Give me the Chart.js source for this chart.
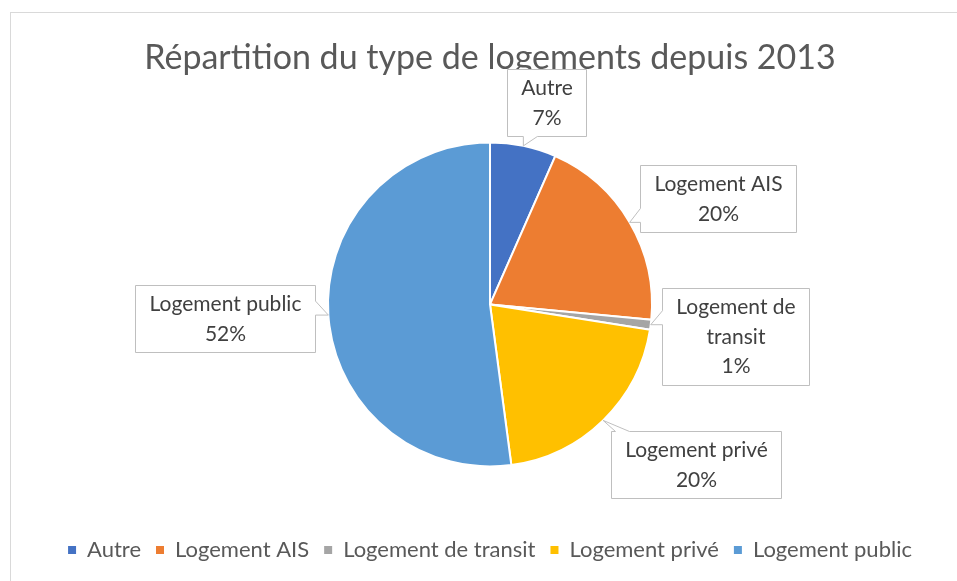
<!DOCTYPE html>
<html>
<head>
<meta charset="utf-8">
<script src="https://cdn.jsdelivr.net/npm/chart.js@4.4.0/dist/chart.umd.min.js"></script>
<style>
  html, body { margin: 0; padding: 0; background: #fff; }
  #wrap { width: 957px; height: 581px; }
</style>
</head>
<body>
<div id="wrap"><canvas id="myChart" width="957" height="581"></canvas></div>
<script>
const categories = ['Autre', 'Logement AIS', 'Logement de transit', 'Logement privé', 'Logement public'];
const shares = [6.6, 19.9, 1.0, 20.4, 52.1];
const colors = ['#4472C4', '#ED7D31', '#A5A5A5', '#FFC000', '#5B9BD5'];

// callout box placement relative to the slice edge, and wrap widths
const labelOffsets = [[23, -43], [88, -24], [85, 12], [93, 44], [-103, 3]];
const labelWrap = [0, 0, 130, 0, 0];

const FONT = 'Lato, "Noto Sans", sans-serif';

function wrapText(ctx, text, max) {
  if (!max) return [text];
  var words = text.split(' ');
  var lines = [];
  var cur = '';
  words.forEach(function (w) {
    var t = cur ? cur + ' ' + w : w;
    if (cur && ctx.measureText(t).width > max) {
      lines.push(cur);
      cur = w;
    } else {
      cur = t;
    }
  });
  if (cur) lines.push(cur);
  return lines;
}

function calloutPath(ctx, x0, y0, x1, y1, tx, ty) {
  var w = 14;
  var side;
  if (tx >= x0 && tx <= x1) side = ty > y1 ? 'bottom' : 'top';
  else if (ty >= y0 && ty <= y1) side = tx < x0 ? 'left' : 'right';
  else {
    var dx = tx < x0 ? x0 - tx : tx - x1;
    var dy = ty < y0 ? y0 - ty : ty - y1;
    if (dy > dx) side = ty < y0 ? 'top' : 'bottom';
    else side = tx < x0 ? 'left' : 'right';
  }
  var clamp = function (v, a, b) { return Math.max(a, Math.min(b, v)); };
  var bx = clamp(tx, x0 + 4, x1 - 4 - w);
  var by = clamp(ty - w, y0 + 4, y1 - 4 - w);
  ctx.beginPath();
  ctx.moveTo(x0, y0);
  if (side === 'top') { ctx.lineTo(bx, y0); ctx.lineTo(tx, ty); ctx.lineTo(bx + w, y0); }
  ctx.lineTo(x1, y0);
  if (side === 'right') { ctx.lineTo(x1, by); ctx.lineTo(tx, ty); ctx.lineTo(x1, by + w); }
  ctx.lineTo(x1, y1);
  if (side === 'bottom') { ctx.lineTo(bx + w, y1); ctx.lineTo(tx, ty); ctx.lineTo(bx, y1); }
  ctx.lineTo(x0, y1);
  if (side === 'left') { ctx.lineTo(x0, by + w); ctx.lineTo(tx, ty); ctx.lineTo(x0, by); }
  ctx.closePath();
}

const frame = {
  id: 'frame',
  beforeDraw(chart) {
    var ctx = chart.ctx;
    ctx.save();
    ctx.strokeStyle = '#D9D9D9';
    ctx.lineWidth = 1;
    ctx.strokeRect(10.5, 12.5, 1200, 1200);
    ctx.restore();
  }
};

const callouts = {
  id: 'callouts',
  afterDatasetsDraw(chart) {
    var ctx = chart.ctx;
    var meta = chart.getDatasetMeta(0);
    var total = shares.reduce(function (a, b) { return a + b; }, 0);
    ctx.save();
    ctx.font = '21px ' + FONT;
    ctx.textAlign = 'center';
    ctx.textBaseline = 'middle';
    meta.data.forEach(function (arc, i) {
      var p = arc.getProps(['x', 'y', 'startAngle', 'endAngle', 'outerRadius'], true);
      var mid = (p.startAngle + p.endAngle) / 2;
      var tx = p.x + p.outerRadius * Math.cos(mid);
      var ty = p.y + p.outerRadius * Math.sin(mid);
      var lines = wrapText(ctx, categories[i], labelWrap[i]);
      lines.push(Math.round(shares[i] / total * 100) + '%');
      var tw = Math.max.apply(null, lines.map(function (l) { return ctx.measureText(l).width; }));
      var lineH = 29.5;
      var bw = tw + 28;
      var bh = lines.length * lineH + 8;
      var cx = tx + labelOffsets[i][0];
      var cy = ty + labelOffsets[i][1];
      var x0 = Math.round(cx - bw / 2) + 0.5, y0 = Math.round(cy - bh / 2) + 0.5;
      var x1 = Math.round(cx + bw / 2) + 0.5, y1 = Math.round(cy + bh / 2) + 0.5;
      calloutPath(ctx, x0, y0, x1, y1, tx, ty);
      ctx.fillStyle = '#FFFFFF';
      ctx.fill();
      ctx.strokeStyle = '#BFBFBF';
      ctx.lineWidth = 1;
      ctx.stroke();
      ctx.fillStyle = '#404040';
      lines.forEach(function (l, k) {
        ctx.fillText(l, (x0 + x1) / 2, y0 + 4 + lineH * (k + 0.5));
      });
    });
    ctx.restore();
  }
};

new Chart(document.getElementById('myChart'), {
  type: 'pie',
  data: {
    labels: categories,
    datasets: [{
      data: shares,
      backgroundColor: colors,
      borderColor: '#FFFFFF',
      borderWidth: 2
    }]
  },
  options: {
    responsive: false,
    animation: false,
    radius: 162,
    layout: { padding: { top: 12, left: 33, right: 10, bottom: 10 } },
    plugins: {
      tooltip: { enabled: false },
      title: {
        display: true,
        text: 'Répartition du type de logements depuis 2013',
        color: '#595959',
        font: { family: FONT, size: 34, weight: 'normal' },
        padding: { top: 26, bottom: 6 }
      },
      legend: {
        position: 'bottom',
        labels: {
          color: '#595959',
          font: { family: FONT, size: 22 },
          boxWidth: 8,
          boxHeight: 8,
          padding: 15,
          generateLabels: function (chart) {
            return Chart.overrides.pie.plugins.legend.labels.generateLabels(chart).map(function (l) {
              l.lineWidth = 0;
              l.strokeStyle = l.fillStyle;
              return l;
            });
          }
        }
      }
    }
  },
  plugins: [frame, callouts]
});
</script>
</body>
</html>
